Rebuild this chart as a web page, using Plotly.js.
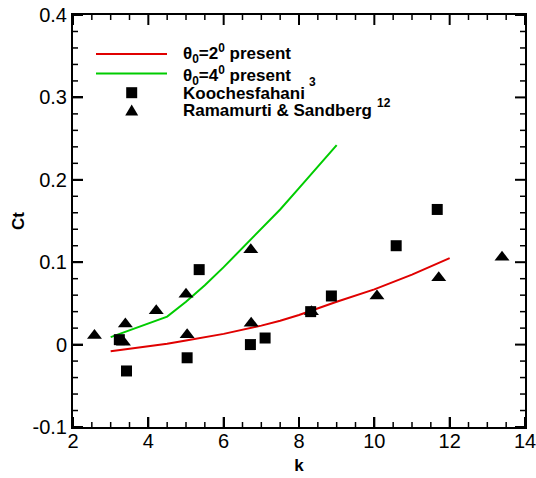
<!DOCTYPE html>
<html>
<head>
<meta charset="utf-8">
<script src="https://cdn.plot.ly/plotly-3.0.1.min.js"></script>
<style>html,body{margin:0;padding:0;background:#fff;}#chart{width:536px;height:478px;}</style>
</head>
<body>
<div id="chart"></div>
<script>
// theta0 = 2 deg, present
const redK  = [3, 3.5, 4, 4.5, 5, 6, 7, 7.5, 8, 9, 10, 11, 12];
const redCt = [-0.008, -0.005, -0.002, 0.001, 0.005, 0.013, 0.023, 0.029, 0.036, 0.052, 0.067, 0.085, 0.105];
// theta0 = 4 deg, present
const greenK  = [3, 4.5, 5, 5.5, 6, 6.5, 7, 7.5, 8, 8.5, 9];
const greenCt = [0.009, 0.034, 0.052, 0.072, 0.094, 0.117, 0.140, 0.164, 0.190, 0.216, 0.242];
// Koochesfahani (squares)
const koK  = [3.23, 3.42, 5.35, 5.03, 6.71, 7.10, 8.31, 8.86, 10.58, 11.67];
const koCt = [0.006, -0.032, 0.091, -0.016, 0.000, 0.008, 0.040, 0.059, 0.120, 0.164];
// Ramamurti & Sandberg (triangles)
const raK  = [2.57, 3.39, 3.34, 4.21, 5.00, 5.03, 6.72, 6.73, 8.33, 10.07, 11.71, 13.39];
const raCt = [0.011, 0.025, 0.003, 0.041, 0.061, 0.012, 0.115, 0.026, 0.040, 0.059, 0.081, 0.106];
// tick labels
const yTickVals = [-0.1, 0, 0.1, 0.2, 0.3, 0.4];
const yTickText = ["-0.1", "0", "0.1", "0.2", "0.3", "0.4"];
const xTickVals = [2, 4, 6, 8, 10, 12, 14];
const xTickText = ["2", "4", "6", "8", "10", "12", "14"];

const FONT = "Liberation Sans, Arial, sans-serif";

const traces = [
  {x: redK, y: redCt, type: "scatter", mode: "lines", line: {color: "#e00000", width: 2}, showlegend: false, hoverinfo: "skip"},
  {x: greenK, y: greenCt, type: "scatter", mode: "lines", line: {color: "#00cc00", width: 2}, showlegend: false, hoverinfo: "skip"},
  {x: raK, y: raCt, type: "scatter", mode: "markers", marker: {symbol: "triangle-up", size: 13, color: "#000"}, showlegend: false, hoverinfo: "skip"},
  {x: koK, y: koCt, type: "scatter", mode: "markers", marker: {symbol: "square", size: 11, color: "#000"}, showlegend: false, hoverinfo: "skip"}
];

function px2x(px) { return (px - 73) / 452; }
function px2y(py) { return (427 - py) / 412; }

const legFont = {family: FONT, size: 17, color: "#000"};
const supFont = {family: FONT, size: 12, color: "#000"};
const annotations = [
  {xref: "paper", yref: "paper", x: px2x(181), y: px2y(54), xanchor: "left", yanchor: "middle", showarrow: false,
   text: "<b>θ<sub>0</sub>=2<sup>0</sup> present</b>", font: legFont},
  {xref: "paper", yref: "paper", x: px2x(181), y: px2y(75), xanchor: "left", yanchor: "middle", showarrow: false,
   text: "<b>θ<sub>0</sub>=4<sup>0</sup> present</b>", font: legFont},
  {xref: "paper", yref: "paper", x: px2x(181), y: px2y(93.5), xanchor: "left", yanchor: "middle", showarrow: false,
   text: "<b>Koochesfahani</b>", font: legFont},
  {xref: "paper", yref: "paper", x: px2x(312), y: px2y(82), xanchor: "center", yanchor: "middle", showarrow: false,
   text: "<b>3</b>", font: supFont},
  {xref: "paper", yref: "paper", x: px2x(181), y: px2y(110), xanchor: "left", yanchor: "middle", showarrow: false,
   text: "<b>Ramamurti &amp; Sandberg</b>", font: legFont},
  {xref: "paper", yref: "paper", x: px2x(384), y: px2y(103), xanchor: "center", yanchor: "middle", showarrow: false,
   text: "<b>12</b>", font: supFont}
];

// legend samples
const shapes = [
  {type: "line", xref: "paper", yref: "paper", x0: px2x(96), x1: px2x(167), y0: px2y(54), y1: px2y(54), line: {color: "#e00000", width: 2}},
  {type: "line", xref: "paper", yref: "paper", x0: px2x(96), x1: px2x(167), y0: px2y(73.5), y1: px2y(73.5), line: {color: "#00cc00", width: 2}},
  {type: "rect", xref: "paper", yref: "paper", xsizemode: "pixel", ysizemode: "pixel",
   xanchor: px2x(131.7), yanchor: px2y(92.7), x0: -5.5, x1: 5.5, y0: -5.5, y1: 5.5,
   fillcolor: "#000", line: {width: 0}},
  {type: "path", xref: "paper", yref: "paper", xsizemode: "pixel", ysizemode: "pixel",
   xanchor: px2x(131.7), yanchor: px2y(111),
   path: "M -6.5 -4.5 L 6.5 -4.5 L 0 6.5 Z", fillcolor: "#000", line: {width: 0}}
];

// Inward tick marks on all four sides, placed through the axes' own scales
// (x ticks use xref "x", y ticks use yref "y").
function isMajor(v, majors) { return majors.some(function (m) { return Math.abs(m - v) < 1e-9; }); }
function xTick(v, len, w) {
  shapes.push({type: "line", xref: "x", yref: "paper", ysizemode: "pixel", yanchor: 0, x0: v, x1: v, y0: 0, y1: len, line: {color: "#000", width: w}});
  shapes.push({type: "line", xref: "x", yref: "paper", ysizemode: "pixel", yanchor: 1, x0: v, x1: v, y0: 0, y1: -len, line: {color: "#000", width: w}});
}
function yTick(v, len, w) {
  shapes.push({type: "line", xref: "paper", yref: "y", xsizemode: "pixel", xanchor: 0, y0: v, y1: v, x0: 0, x1: len, line: {color: "#000", width: w}});
  shapes.push({type: "line", xref: "paper", yref: "y", xsizemode: "pixel", xanchor: 1, y0: v, y1: v, x0: 0, x1: -len, line: {color: "#000", width: w}});
}
xTickVals.forEach(function (v) { xTick(v, 10, 2); });
yTickVals.forEach(function (v) { yTick(v, 10, 2); });
for (let i = 0; i <= 24; i++) {            // minor step 0.5 in k
  const v = 2 + i * 0.5;
  if (!isMajor(v, xTickVals)) xTick(v, 5, 1.5);
}
for (let i = 0; i <= 25; i++) {            // minor step 0.02 in Ct
  const v = Math.round((-0.1 + i * 0.02) * 1000) / 1000;
  if (!isMajor(v, yTickVals)) yTick(v, 5, 1.5);
}

const layout = {
  width: 536, height: 478,
  margin: {l: 73, r: 11, t: 15, b: 51},
  paper_bgcolor: "#fff", plot_bgcolor: "#fff",
  showlegend: false,
  dragmode: false,
  hovermode: false,
  xaxis: {
    range: [2, 14], tickmode: "array", tickvals: xTickVals, ticktext: xTickText,
    showline: true, linecolor: "#000", linewidth: 2, mirror: true,
    ticks: "inside", ticklen: 10, tickwidth: 2, tickcolor: "#000",
    showgrid: false, zeroline: false, fixedrange: true,
    ticklabeloverflow: "allow", ticklabelstandoff: -5,
    tickfont: {family: FONT, size: 20, color: "#000"},
    title: {text: "<b>k</b>", font: {family: FONT, size: 17, color: "#000"}, standoff: 8}
  },
  yaxis: {
    range: [-0.1, 0.4], tickmode: "array", tickvals: yTickVals, ticktext: yTickText,
    showline: true, linecolor: "#000", linewidth: 2, mirror: true,
    ticks: "inside", ticklen: 10, tickwidth: 2, tickcolor: "#000",
    showgrid: false, zeroline: false, fixedrange: true,
    ticklabeloverflow: "allow",
    tickfont: {family: FONT, size: 20, color: "#000"},
    title: {text: "<b>Ct</b>", font: {family: FONT, size: 17, color: "#000"}, standoff: 4}
  },
  annotations: annotations,
  shapes: shapes
};

Plotly.newPlot("chart", traces, layout, {displayModeBar: false});
</script>
</body>
</html>
